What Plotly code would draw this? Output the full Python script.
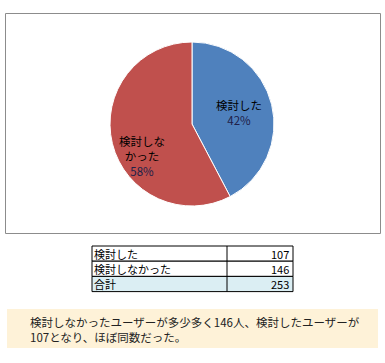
import plotly.graph_objects as go

# ---- data ----
categories = ["検討した", "検討しなかった"]
slice_labels = ["検討した", "検討しな<br>かった"]
values = [107, 146]
total_label = "合計"
colors = ["#4F81BD", "#C0504D"]
note_lines = [
    "検討しなかったユーザーが多少多く146人、検討したユーザーが",
    "107となり、ほぼ同数だった。",
]

W, H = 385, 363
FONT = "Noto Sans CJK JP"


def px(x):
    return x / W


def py(y):
    return 1 - y / H


fig = go.Figure()

# pie
cx, cy, r = 192, 124, 82
fig.add_trace(go.Pie(
    values=values,
    labels=categories,
    sort=False,
    direction="clockwise",
    rotation=0,
    marker=dict(colors=colors, line=dict(color="white", width=1)),
    textinfo="none",
    hoverinfo="label+value+percent",
    showlegend=False,
    domain=dict(x=[px(cx - r), px(cx + r)], y=[py(cy + r), py(cy - r)]),
))

shapes = []
annotations = []

# chart border
shapes.append(dict(type="rect", xref="paper", yref="paper",
                   x0=px(5.5), x1=px(380.5), y0=py(233.5), y1=py(13.5),
                   line=dict(color="#8C8C8C", width=1), fillcolor="rgba(0,0,0,0)", layer="below"))

# slice labels
total = sum(values)
label_pos = [(239, 112), (142, 156)]
for lab, v, (lx, ly) in zip(slice_labels, values, label_pos):
    pct = round(v / total * 100)
    annotations.append(dict(
        xref="paper", yref="paper", x=px(lx), y=py(ly), showarrow=False,
        text=f"{lab}<br><span style='color:#202048'>{pct}%</span>",
        font=dict(family=FONT, size=11.5, color="#000000"),
        align="center", xanchor="center", yanchor="middle",
    ))

# table
tx0, tx1, tdiv = 92, 293, 227
row_top0 = 246
row_h = 15.2
rows = list(zip(categories, values)) + [(total_label, total)]
fills = ["white", "white", "#DBEEF3"]
for i, ((name, val), f) in enumerate(zip(rows, fills)):
    top = row_top0 + i * row_h
    shapes.append(dict(type="rect", xref="paper", yref="paper",
                       x0=px(tx0), x1=px(tx1), y0=py(top + row_h), y1=py(top),
                       line=dict(color="#000000", width=1), fillcolor=f))
    yc = py(top + row_h / 2)
    annotations.append(dict(xref="paper", yref="paper", x=px(tx0 + 1), y=yc,
                            text=name, showarrow=False, xanchor="left", yanchor="middle",
                            borderpad=0,
                            font=dict(family=FONT, size=11, color="#000000")))
    annotations.append(dict(xref="paper", yref="paper", x=px(tx1 - 3), y=yc,
                            text=str(val), showarrow=False, xanchor="right", yanchor="middle",
                            borderpad=0,
                            font=dict(family=FONT, size=11, color="#000000")))
shapes.append(dict(type="line", xref="paper", yref="paper",
                   x0=px(tdiv), x1=px(tdiv), y0=py(row_top0 + 3 * row_h), y1=py(row_top0),
                   line=dict(color="#000000", width=1)))

# note box
shapes.append(dict(type="rect", xref="paper", yref="paper",
                   x0=px(7), x1=px(378), y0=py(348), y1=py(309),
                   line=dict(width=0), fillcolor="#FEF2D8", layer="below"))
annotations.append(dict(xref="paper", yref="paper", x=px(28), y=py(329),
                        text="<br>".join(note_lines), showarrow=False,
                        xanchor="left", yanchor="middle", align="left",
                        font=dict(family=FONT, size=11.5, color="#222222")))

fig.update_layout(
    width=W, height=H,
    margin=dict(l=0, r=0, t=0, b=0),
    paper_bgcolor="white", plot_bgcolor="white",
    shapes=shapes, annotations=annotations,
)

fig.write_html("out.html",
               config={"displayModeBar": False},
               post_script="document.body.style.margin='0';document.body.style.padding='0';")
